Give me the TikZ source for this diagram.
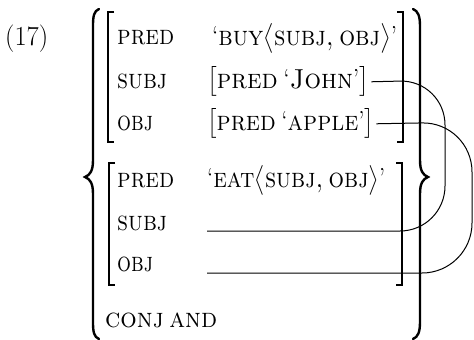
\documentclass[tikz,border=0pt]{standalone}
\usepackage{amsmath}
\usepackage{graphicx}
\newcommand\fitw[2]{\resizebox{#1}{\height}{#2}}
\newcommand\gapsp{\hspace{0.22em}}
\begin{document}
\begin{tikzpicture}[x=1pt,y=-1pt,
  txt/.style={anchor=base west,inner sep=0pt,font=\fontsize{27.5}{33}\selectfont},
  brk/.style={line width=1.3pt},
  brc/.style={line width=2.4pt,line cap=round},
  link/.style={line width=1pt}]
\useasboundingbox (0,0) rectangle (474,340);
% example number
\node[txt] (num) at (5,45) {\fitw{43pt}{(17)}};
% outer braces
\draw[brc] (99,9) .. controls (94,11) and (93,16) .. (93,26) -- (93,160)
  .. controls (93,171) and (90,175) .. (85,177)
  .. controls (90,179) and (93,183) .. (93,194) -- (93,322)
  .. controls (93,332) and (94,337) .. (99,339);
\draw[brc] (413,9) .. controls (418,11) and (420,16) .. (420,26) -- (420,160)
  .. controls (420,171) and (423,175) .. (428,177)
  .. controls (423,179) and (420,183) .. (420,194) -- (420,322)
  .. controls (420,332) and (418,337) .. (413,339);
% inner brackets
\draw[brk] (114,12) -- (108,12) -- (108,142) -- (114,142);
\draw[brk] (397,12) -- (403,12) -- (403,142) -- (397,142);
\draw[brk] (115,163) -- (109,163) -- (109,285) -- (115,285);
\draw[brk] (396,163) -- (402,163) -- (402,285) -- (396,285);
% block 1
\node[txt] (p1) at (117,45) {\fitw{57pt}{\textsc{pred}}};
\node[txt] (v1) at (212,45) {\fitw{185pt}{`\textsc{buy}$\bigl\langle$\textsc{subj,\gapsp obj}$\bigr\rangle$'}};
\node[txt] (s1) at (117,88) {\fitw{50pt}{\textsc{subj}}};
\node[txt] (john) at (207,88) {\fitw{162pt}{$\bigl[$\textsc{pred}\gapsp`\textsc{John}'$\bigr]$}};
\node[txt] (o1) at (117,130) {\fitw{36pt}{\textsc{obj}}};
\node[txt] (apple) at (207,130) {\fitw{167pt}{$\bigl[$\textsc{pred}\gapsp`\textsc{apple}'$\bigr]$}};
% block 2
\node[txt] (p2) at (117,187) {\fitw{57pt}{\textsc{pred}}};
\node[txt] (v2) at (207,187) {\fitw{178pt}{`\textsc{eat}$\bigl\langle$\textsc{subj,\gapsp obj}$\bigr\rangle$'}};
\node[txt] (s2) at (117,230) {\fitw{50pt}{\textsc{subj}}};
\node[txt] (o2) at (117,271) {\fitw{36pt}{\textsc{obj}}};
\node[txt] (conj) at (105,327) {\fitw{112pt}{\textsc{conj\gapsp and}}};
\coordinate (s2end) at (207,231);
\coordinate (o2end) at (207,273);
% structure-sharing links
\draw[link,rounded corners=45pt] ([xshift=2pt]john.east) -- (445,80) -- (445,231) -- (s2end);
\draw[link,rounded corners=50pt] ([xshift=2pt]apple.east) -- (472,122) -- (472,273) -- (o2end);
\end{tikzpicture}
\end{document}
